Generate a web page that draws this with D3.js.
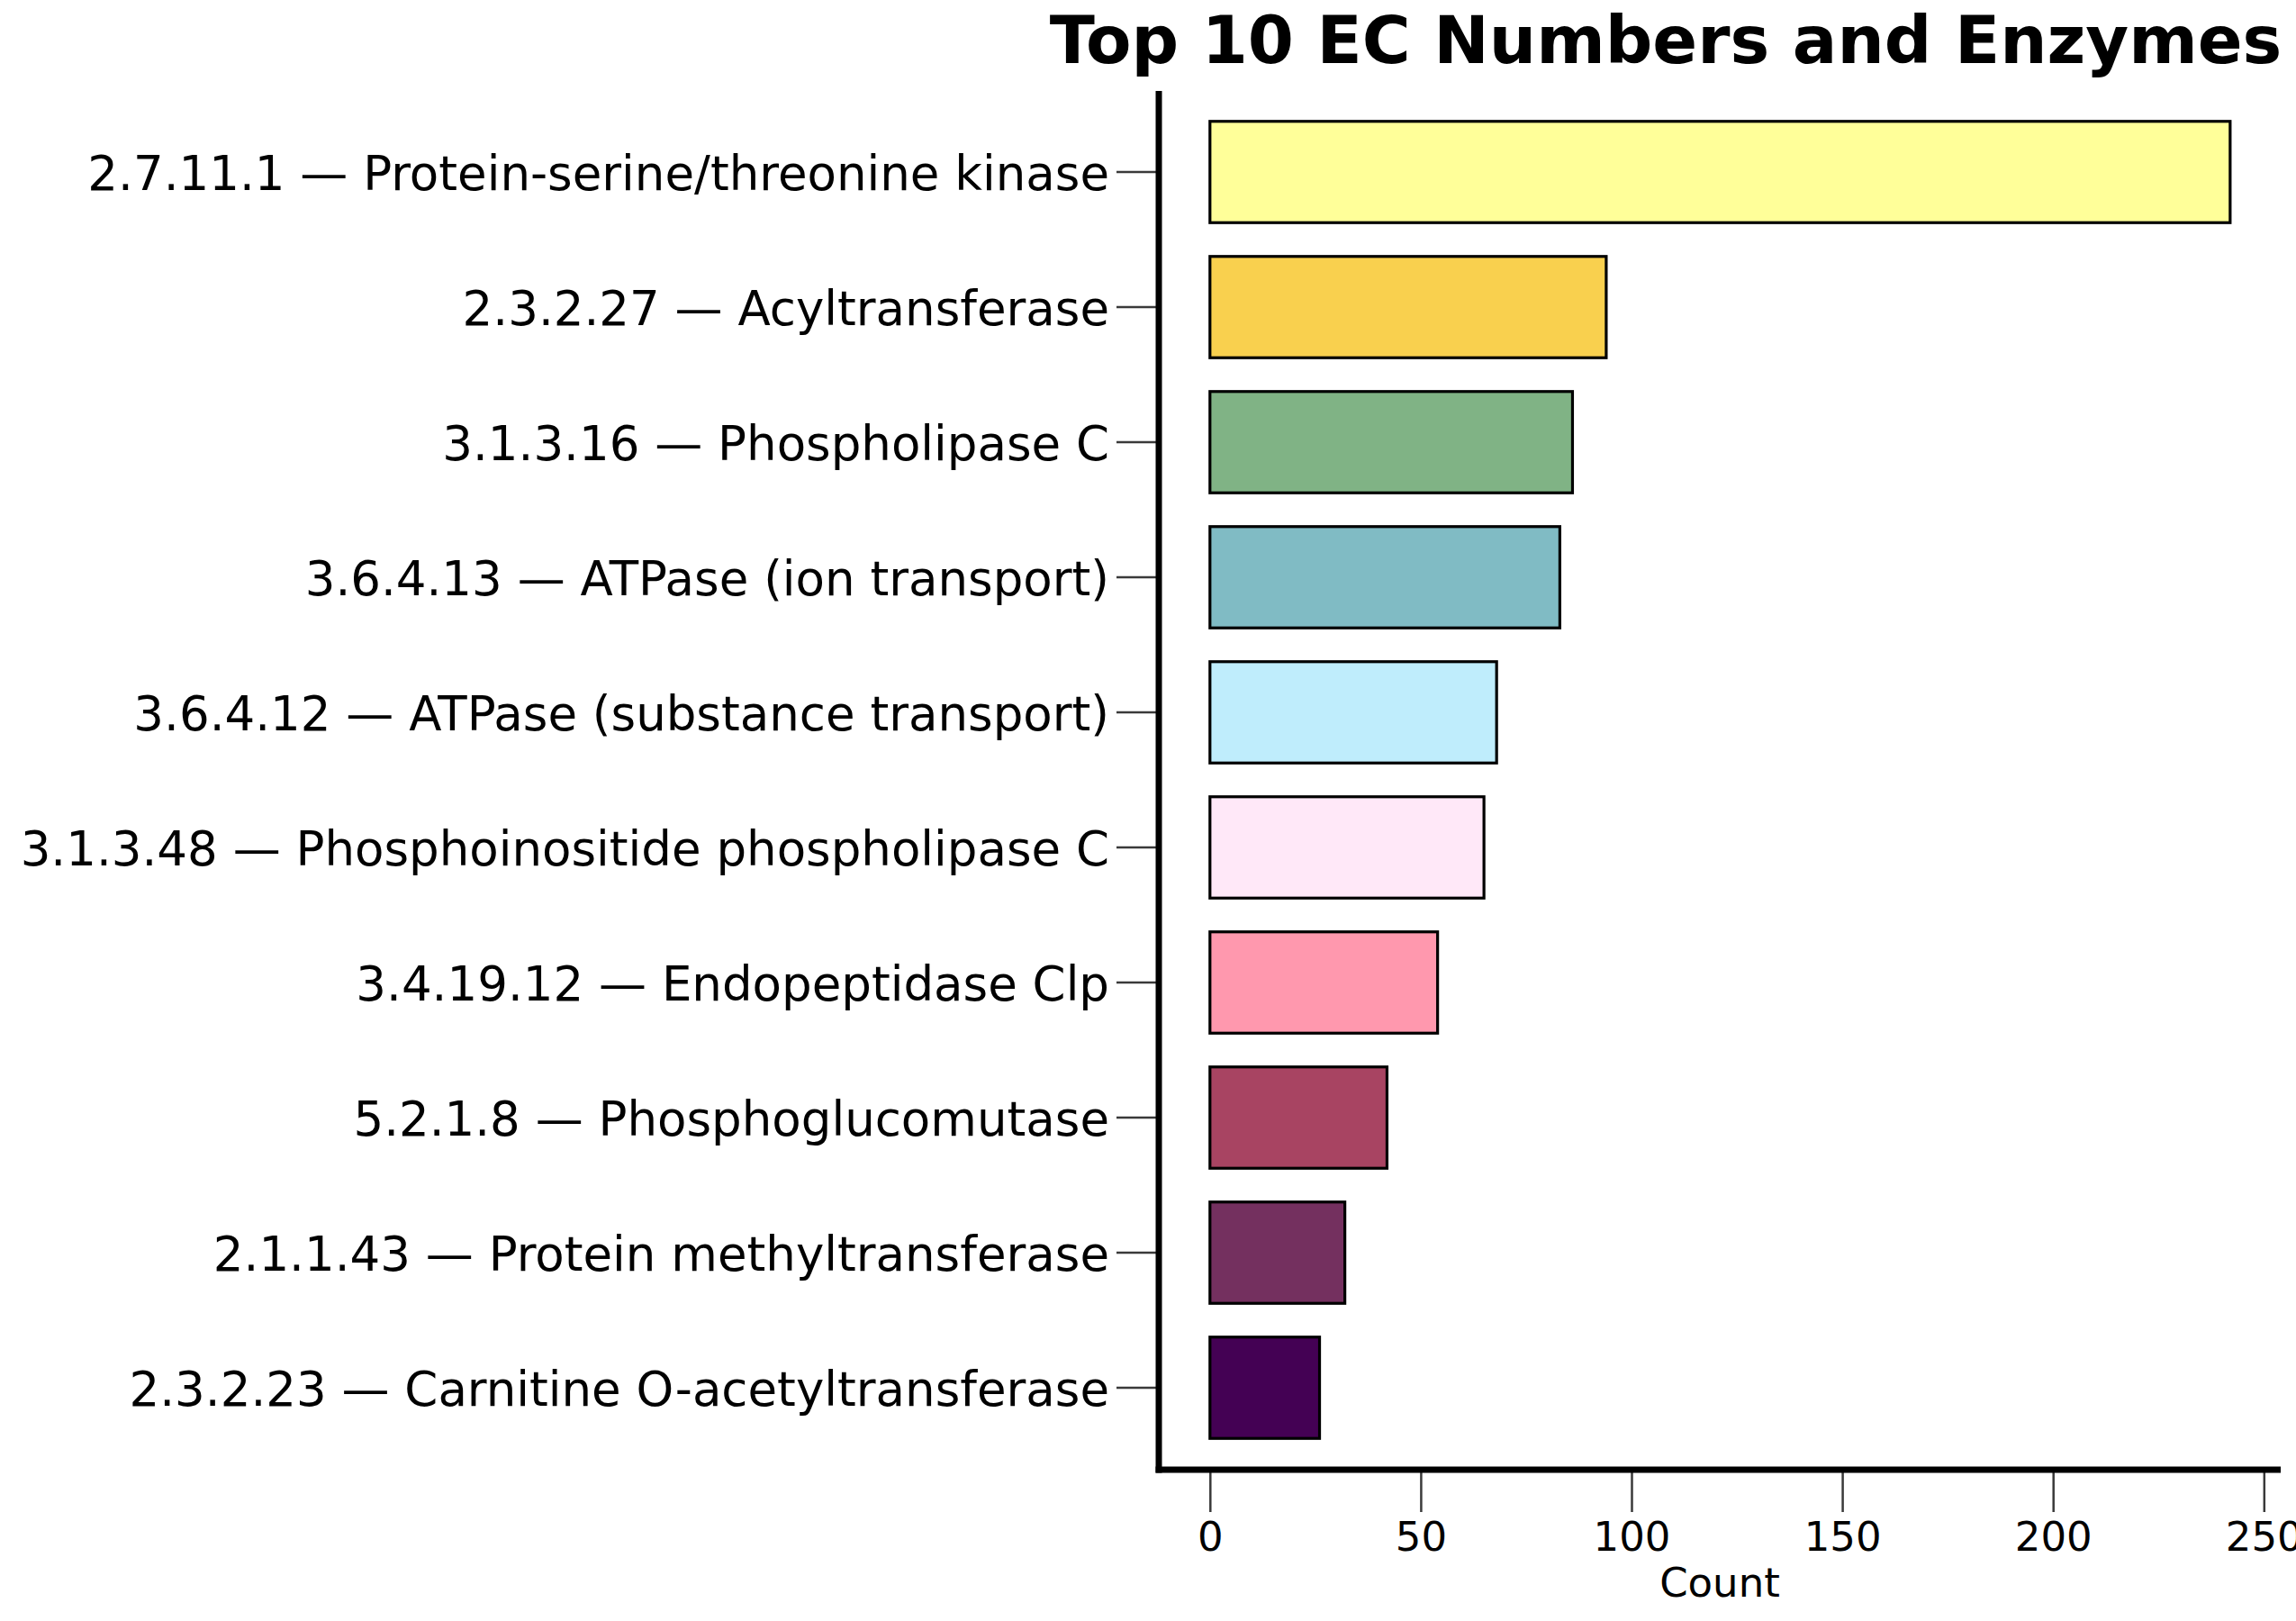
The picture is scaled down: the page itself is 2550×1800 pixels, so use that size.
<!DOCTYPE html>
<html>
<head>
<meta charset="utf-8">
<script src="https://cdn.jsdelivr.net/npm/d3@7"></script>
<style>
  html, body { margin: 0; padding: 0; background: #ffffff; }
  svg { display: block; font-family: "DejaVu Sans", sans-serif; }
</style>
</head>
<body>
<svg id="chart" width="2550" height="1800"></svg>
<script>
const categories = [
  "2.7.11.1 — Protein-serine/threonine kinase",
  "2.3.2.27 — Acyltransferase",
  "3.1.3.16 — Phospholipase C",
  "3.6.4.13 — ATPase (ion transport)",
  "3.6.4.12 — ATPase (substance transport)",
  "3.1.3.48 — Phosphoinositide phospholipase C",
  "3.4.19.12 — Endopeptidase Clp",
  "5.2.1.8 — Phosphoglucomutase",
  "2.1.1.43 — Protein methyltransferase",
  "2.3.2.23 — Carnitine O-acetyltransferase"
];
const counts = [242, 94, 86, 83, 68, 65, 54, 42, 32, 26];
const barColors = ["#ffff99", "#f9d04e", "#80b385", "#80bbc4", "#bfedfc",
                   "#ffe8f8", "#ff98ae", "#a84462", "#74305f", "#440154"];
const xTicks = [0, 50, 100, 150, 200, 250];
const titleText = "Top 10 EC Numbers and Enzymes";
const xLabelText = "Count";

const svg = d3.select("#chart");
svg.append("rect").attr("width", 2550).attr("height", 1800).attr("fill", "#ffffff");

const x = d3.scaleLinear().domain([0, 250]).range([1343.8, 2514.3]);
const y = d3.scaleBand().domain(categories).range([116, 1616])
  .paddingInner(0.25).paddingOuter(0.125);

const spineX = 1287, spineY = 1632, spineTop = 101, spineRight = 2533;

// bars
svg.append("g").selectAll("rect").data(categories).join("rect")
  .attr("x", x(0))
  .attr("y", d => y(d))
  .attr("width", (d, i) => x(counts[i]) - x(0))
  .attr("height", y.bandwidth())
  .attr("fill", (d, i) => barColors[i])
  .attr("stroke", "#000")
  .attr("stroke-width", 3.2);

// y axis
const gy = svg.append("g").attr("transform", `translate(${spineX},0)`)
  .call(d3.axisLeft(y).tickSize(47).tickPadding(8));
gy.select(".domain").remove();
gy.selectAll(".tick line").attr("stroke", "#3a3a3a").attr("stroke-width", 2.5);
gy.selectAll(".tick text").attr("font-size", 53).attr("fill", "#000")
  .attr("dy", "0.38em").attr("font-family", "DejaVu Sans");

// x axis
const gx = svg.append("g").attr("transform", `translate(0,${spineY})`)
  .call(d3.axisBottom(x).tickValues(xTicks).tickSize(47).tickPadding(11));
gx.select(".domain").remove();
gx.selectAll(".tick line").attr("stroke", "#3a3a3a").attr("stroke-width", 2.5);
gx.selectAll(".tick text").attr("font-size", 45).attr("fill", "#000")
  .attr("font-family", "DejaVu Sans");

// spines
svg.append("line").attr("x1", spineX).attr("x2", spineX)
  .attr("y1", spineTop).attr("y2", spineY + 3.5)
  .attr("stroke", "#000").attr("stroke-width", 7);
svg.append("line").attr("x1", spineX - 3.5).attr("x2", spineRight)
  .attr("y1", spineY).attr("y2", spineY)
  .attr("stroke", "#000").attr("stroke-width", 7);

// title
svg.append("text").attr("x", 1850).attr("y", 70)
  .attr("text-anchor", "middle").attr("font-size", 73.5).attr("font-weight", "bold")
  .attr("fill", "#000").text(titleText);

// x label
svg.append("text").attr("x", (spineX + spineRight) / 2).attr("y", 1773)
  .attr("text-anchor", "middle").attr("font-size", 45)
  .attr("fill", "#000").text(xLabelText);
</script>
</body>
</html>
